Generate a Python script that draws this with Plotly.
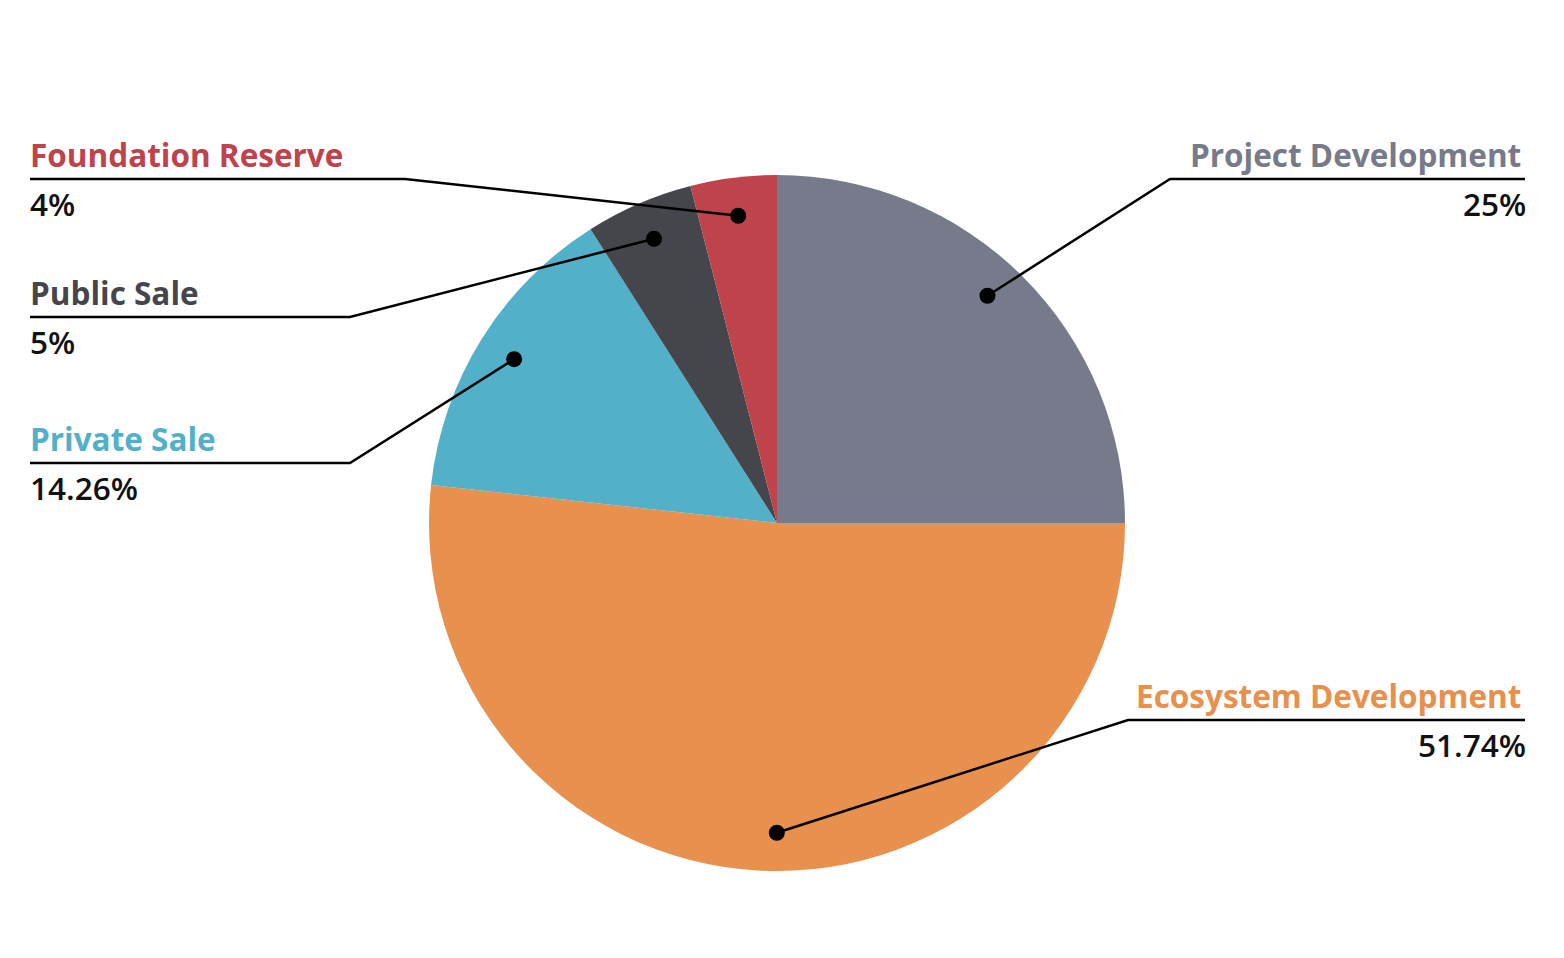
import math
import plotly.graph_objects as go

labels = ["Project Development", "Ecosystem Development", "Private Sale", "Public Sale", "Foundation Reserve"]
values = [25, 51.74, 14.26, 5, 4]
pct_text = ["25%", "51.74%", "14.26%", "5%", "4%"]
colors = ["#767a8a", "#e8904e", "#52b0c8", "#45464c", "#be434b"]
label_side = ["right", "right", "left", "left", "left"]
# leader geometry (pixels): horizontal rule y, elbow x, far end x
rule_y = [179, 720, 463, 317, 179]
elbow_x = [1170, 1128, 350, 350, 405]
end_x = [1525, 1525, 30, 30, 30]
# small angular nudge (degrees) of each leader dot from the slice mid-angle
dot_nudge = [-2.2, -3.1, 0, 0, 0]

W, H = 1564, 958
OFF = 8  # page body margin
cx, cy, R = 777, 523, 348
dot_frac = 0.89
dot_r = 8

def px(x):
    return (x - OFF) / W

def py(y):
    return 1 - (y - OFF) / H

fig = go.Figure(go.Pie(
    labels=labels, values=values, sort=False, direction="clockwise", rotation=0,
    marker=dict(colors=colors, line=dict(width=0)),
    textinfo="none", hoverinfo="label+percent", showlegend=False,
    domain=dict(x=[px(cx - R), px(cx + R)], y=[py(cy + R), py(cy - R)]),
))

shapes = []
annotations = []
total = sum(values)
cum = 0
for i, v in enumerate(values):
    mid = (cum + v / 2) / total * 2 * math.pi + math.radians(dot_nudge[i])
    cum += v
    dx = cx + dot_frac * R * math.sin(mid)
    dy = cy - dot_frac * R * math.cos(mid)
    path = "M {} {} L {} {} L {} {}".format(
        px(end_x[i]), py(rule_y[i]), px(elbow_x[i]), py(rule_y[i]), px(dx), py(dy))
    shapes.append(dict(type="path", path=path, xref="paper", yref="paper",
                       line=dict(color="black", width=2.5)))
    shapes.append(dict(type="circle", xref="paper", yref="paper",
                       x0=px(dx - dot_r), x1=px(dx + dot_r), y0=py(dy + dot_r), y1=py(dy - dot_r),
                       fillcolor="black", line=dict(width=0)))
    left = label_side[i] == "left"
    anchor = "left" if left else "right"
    annotations.append(dict(text=labels[i], xref="paper", yref="paper",
                            x=px(end_x[i] - 2 if left else end_x[i] - 2),
                            y=py(rule_y[i] - 1), xanchor=anchor, yanchor="bottom",
                            showarrow=False,
                            font=dict(family="Open Sans", size=31.5, color=colors[i], weight=700)))
    annotations.append(dict(text=pct_text[i], xref="paper", yref="paper",
                            x=px(end_x[i] - 2 if left else end_x[i] + 3),
                            y=py(rule_y[i] + 1), xanchor=anchor, yanchor="top",
                            showarrow=False,
                            font=dict(family="Open Sans", size=31.5, color="#111111", weight=600)))

fig.update_layout(
    width=W, height=H, margin=dict(l=0, r=0, t=0, b=0),
    paper_bgcolor="white", plot_bgcolor="white",
    shapes=shapes, annotations=annotations,
)
fig.write_html("out.html")
